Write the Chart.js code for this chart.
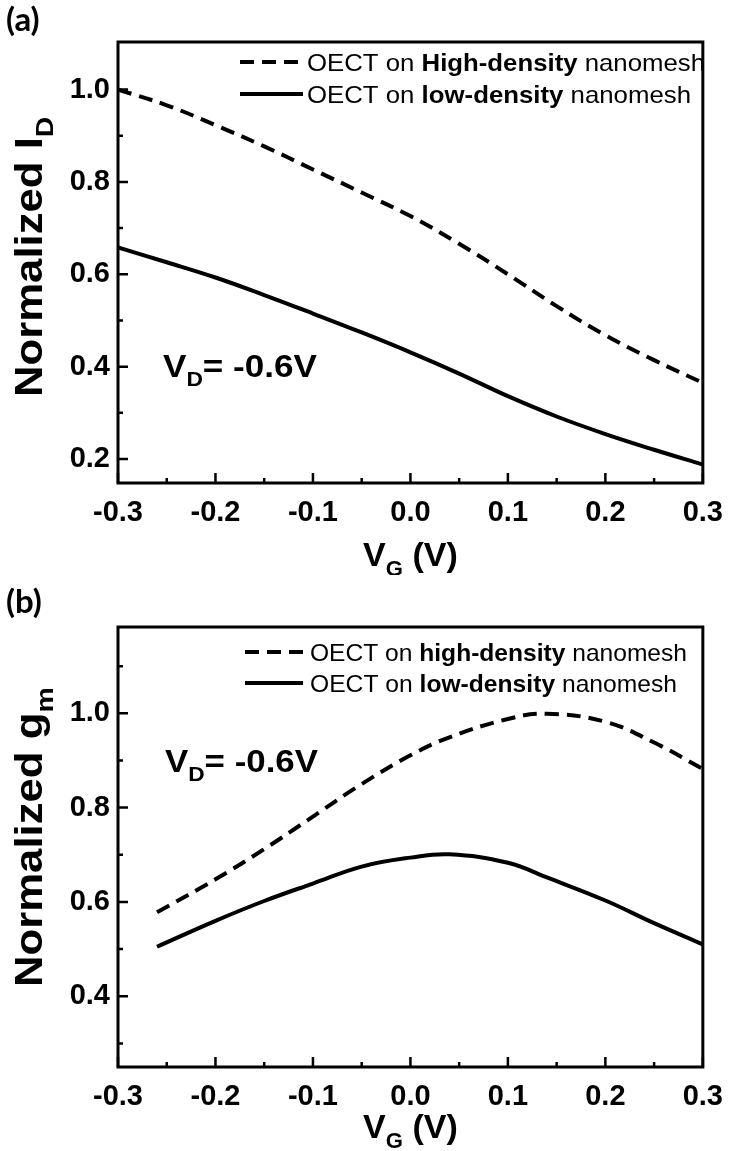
<!DOCTYPE html>
<html>
<head>
<meta charset="utf-8">
<script src="https://cdn.jsdelivr.net/npm/chart.js@4.4.1/dist/chart.umd.min.js"></script>
<style>
  body { margin: 0; background: #fff; }
  #wrap { position: relative; width: 736px; height: 1151px; }
  .panel { position: absolute; left: 0; width: 736px; }
</style>
</head>
<body>
<div id="wrap">
  <div class="panel" style="top:0;height:575px"><canvas id="chartA" width="736" height="575"></canvas></div>
  <div class="panel" style="top:575px;height:576px"><canvas id="chartB" width="736" height="576"></canvas></div>
</div>
<script>
// (a) normalized I_D vs V_G
const vgA = [-0.3, -0.25, -0.2, -0.15, -0.1, -0.05, 0.0, 0.05, 0.1, 0.15, 0.2, 0.25, 0.3];
const idHigh = [1.0, 0.966, 0.923, 0.877, 0.827, 0.777, 0.726, 0.666, 0.6, 0.531, 0.468, 0.414, 0.365];
const idLow = [0.658, 0.626, 0.593, 0.555, 0.515, 0.474, 0.431, 0.385, 0.336, 0.292, 0.254, 0.22, 0.188];

// (b) normalized g_m vs V_G
const vgB = [-0.26, -0.2, -0.15, -0.1, -0.05, 0.0, 0.04, 0.1, 0.14, 0.2, 0.25, 0.3];
const gmHigh = [0.578, 0.648, 0.712, 0.781, 0.85, 0.911, 0.949, 0.988, 0.999, 0.982, 0.938, 0.882];
const gmLow = [0.505, 0.56, 0.602, 0.639, 0.675, 0.694, 0.701, 0.683, 0.652, 0.603, 0.555, 0.51];

// ticks
const xMajor = [-0.3, -0.2, -0.1, 0.0, 0.1, 0.2, 0.3];
const xMinor = [-0.25, -0.15, -0.05, 0.05, 0.15, 0.25];
const yMajorA = [0.2, 0.4, 0.6, 0.8, 1.0];
const yMinorA = [0.3, 0.5, 0.7, 0.9];
const yMajorB = [0.4, 0.6, 0.8, 1.0];
const yMinorB = [0.3, 0.5, 0.7, 0.9, 1.1];

const fontFamily = "'Liberation Sans', Arial, sans-serif";

function partsWidth(ctx, parts, size) {
  let w = 0;
  parts.forEach((p) => {
    const s = p.sub ? size * 0.65 : size;
    ctx.font = (p.bold ? "bold " : "") + s + "px " + fontFamily;
    w += ctx.measureText(p.t).width;
  });
  return w;
}

// draws mixed bold / subscript text, left edge x, baseline y
function drawParts(ctx, parts, x, y, size, fit) {
  const natural = partsWidth(ctx, parts, size);
  let sx = 1;
  if (fit && fit.width) sx = fit.width / natural;
  if (fit && fit.sx) sx = fit.sx;
  ctx.save();
  ctx.translate(x, y);
  ctx.scale(sx, 1);
  ctx.textBaseline = "alphabetic";
  ctx.textAlign = "left";
  ctx.fillStyle = "#000";
  let cx = 0;
  parts.forEach((p) => {
    const s = p.sub ? size * 0.65 : size;
    ctx.font = (p.bold ? "bold " : "") + s + "px " + fontFamily;
    ctx.fillText(p.t, cx, p.sub ? size * 0.3 : 0);
    cx += ctx.measureText(p.t).width;
  });
  ctx.restore();
  return natural * sx;
}

const decoPlugin = {
  id: "deco",
  afterDraw(chart, args, opts) {
    const ctx = chart.ctx;
    const area = chart.chartArea;
    const xs = chart.scales.x;
    const ys = chart.scales.y;
    ctx.save();
    ctx.strokeStyle = "#000";
    ctx.lineWidth = 2.5;
    ctx.beginPath();
    xMajor.forEach((v) => {
      const px = xs.getPixelForValue(v);
      ctx.moveTo(px, area.bottom);
      ctx.lineTo(px, area.bottom - 10);
    });
    xMinor.forEach((v) => {
      const px = xs.getPixelForValue(v);
      ctx.moveTo(px, area.bottom);
      ctx.lineTo(px, area.bottom - 5);
    });
    opts.yMajor.forEach((v) => {
      const py = ys.getPixelForValue(v);
      ctx.moveTo(area.left, py);
      ctx.lineTo(area.left + 10, py);
    });
    opts.yMinor.forEach((v) => {
      const py = ys.getPixelForValue(v);
      ctx.moveTo(area.left, py);
      ctx.lineTo(area.left + 5, py);
    });
    ctx.stroke();
    ctx.lineWidth = 3;
    ctx.strokeRect(area.left, area.top, area.right - area.left, area.bottom - area.top);

    // legend
    opts.legend.forEach((item) => {
      ctx.beginPath();
      ctx.lineWidth = 4;
      ctx.setLineDash(item.dash);
      ctx.moveTo(item.x0, item.cy);
      ctx.lineTo(item.x1, item.cy);
      ctx.stroke();
      ctx.setLineDash([]);
      drawParts(ctx, item.parts, item.tx, item.cy + 8.5, 24, { width: item.width });
    });

    // V_D note
    const n = opts.note;
    drawParts(ctx, [{ t: "V", bold: true }, { t: "D", bold: true, sub: true }, { t: "= -0.6V", bold: true }], n.x, n.y, 31, { width: n.width });

    // y title
    ctx.save();
    ctx.translate(opts.yTitle.x, opts.yTitle.y);
    ctx.rotate(-Math.PI / 2);
    drawParts(ctx, opts.yTitle.parts, 0, 0, 38, { sx: 1.15 });
    ctx.restore();

    // x title
    const xt = [{ t: "V", bold: true }, { t: "G", bold: true, sub: true }, { t: " (V)", bold: true }];
    const w = partsWidth(ctx, xt, 34);
    drawParts(ctx, xt, (area.left + area.right) / 2 - w / 2, opts.xTitleY, 34);

    // panel label
    ctx.font = "bold 33px Lato, " + fontFamily;
    ctx.fillStyle = "#000";
    ctx.textAlign = "left";
    ctx.textBaseline = "alphabetic";
    ctx.fillText(opts.panel, 6, opts.panelY);
    ctx.restore();
  },
};

function makeSeries(xs, ys) {
  return xs.map((x, i) => ({ x: x, y: ys[i] }));
}

function makePanel(id, xs, high, low, yMin, yMax, yMajor, topPad, xHeight, deco) {
  const tickFont = { family: fontFamily, size: 29, weight: "bold" };
  return new Chart(document.getElementById(id), {
    type: "line",
    data: {
      datasets: [
        {
          data: makeSeries(xs, high),
          borderColor: "#000",
          borderWidth: 4,
          borderDash: [14, 8],
          pointRadius: 0,
          tension: 0.4,
          fill: false,
        },
        {
          data: makeSeries(xs, low),
          borderColor: "#000",
          borderWidth: 4,
          pointRadius: 0,
          tension: 0.4,
          fill: false,
        },
      ],
    },
    options: {
      responsive: false,
      devicePixelRatio: 1,
      animation: false,
      layout: { padding: { top: topPad, right: 26, bottom: 0, left: 0 } },
      plugins: { legend: { display: false }, tooltip: { enabled: false }, deco: deco },
      scales: {
        x: {
          type: "linear",
          min: -0.3,
          max: 0.3,
          afterBuildTicks: (s) => { s.ticks = xMajor.map((v) => ({ value: v })); },
          afterFit: (s) => { s.height = xHeight; },
          grid: { display: false, drawTicks: false },
          border: { display: false },
          ticks: { padding: 13, font: tickFont, color: "#000", maxRotation: 0, autoSkip: false, callback: (v) => Number(v).toFixed(1) },
        },
        y: {
          type: "linear",
          min: yMin,
          max: yMax,
          afterBuildTicks: (s) => { s.ticks = yMajor.map((v) => ({ value: v })); },
          afterFit: (s) => { s.width = 118; },
          grid: { display: false, drawTicks: false },
          border: { display: false },
          ticks: { padding: 8, font: tickFont, color: "#000", autoSkip: false, callback: (v) => Number(v).toFixed(1) },
        },
      },
    },
    plugins: [decoPlugin],
  });
}

makePanel("chartA", vgA, idHigh, idLow, 0.148, 1.103, yMajorA, 42, 92, {
  yMajor: yMajorA,
  yMinor: yMinorA,
  legend: [
    { cy: 62, x0: 240, x1: 303, tx: 307, width: 398, dash: [14, 8],
      parts: [{ t: "OECT on " }, { t: "High-density", bold: true }, { t: " nanomesh" }] },
    { cy: 94, x0: 240, x1: 303, tx: 307, width: 384, dash: [],
      parts: [{ t: "OECT on " }, { t: "low-density", bold: true }, { t: " nanomesh" }] },
  ],
  note: { x: 163, y: 377, width: 154 },
  yTitle: { x: 42, y: 397, parts: [{ t: "Normalized I", bold: true }, { t: "D", bold: true, sub: true }] },
  xTitleY: 566,
  panel: "(a)",
  panelY: 31,
});

makePanel("chartB", vgB, gmHigh, gmLow, 0.25, 1.183, yMajorB, 52, 84, {
  yMajor: yMajorB,
  yMinor: yMinorB,
  legend: [
    { cy: 77, x0: 245, x1: 303, tx: 310, width: 377, dash: [14, 8],
      parts: [{ t: "OECT on " }, { t: "high-density", bold: true }, { t: " nanomesh" }] },
    { cy: 108, x0: 245, x1: 303, tx: 310, width: 367, dash: [],
      parts: [{ t: "OECT on " }, { t: "low-density", bold: true }, { t: " nanomesh" }] },
  ],
  note: { x: 165, y: 197, width: 153 },
  yTitle: { x: 42, y: 412, parts: [{ t: "Normalized g", bold: true }, { t: "m", bold: true, sub: true }] },
  xTitleY: 563,
  panel: "(b)",
  panelY: 38,
});
</script>
</body>
</html>
